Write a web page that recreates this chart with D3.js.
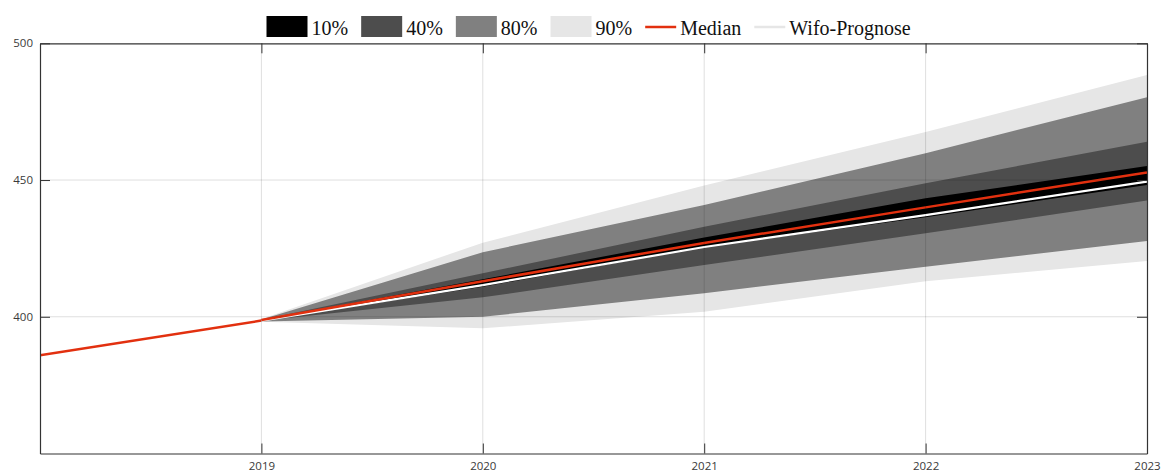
<!DOCTYPE html>
<html>
<head>
<meta charset="utf-8">
<script src="https://cdn.jsdelivr.net/npm/d3@7"></script>
<style>
	body { margin: 0; background: #fff; }
	svg { display: block; }
</style>
</head>
<body>
<svg id="chart" width="1167" height="472"></svg>
<script>
// historical values
var histYears = [2018, 2019];
var histValues = [385.9, 398.6];

// forecast fan
var fcYears = [2019, 2020, 2021, 2022, 2023];
var median = [398.8, 413.0, 427.0, 440.0, 452.8];
var wifo = [398.6, 411.6, 425.5, 437.2, 449.4];
var band10Lo = [398.6, 411.0, 425.5, 436.4, 448.2];
var band10Hi = [398.8, 413.7, 429.0, 443.3, 455.1];
var band40Lo = [398.5, 407.1, 418.9, 430.5, 442.5];
var band40Hi = [398.9, 415.9, 432.9, 448.8, 464.0];
var band80Lo = [398.3, 400.0, 408.6, 418.3, 427.7];
var band80Hi = [399.0, 423.6, 440.9, 459.8, 480.3];
var band90Lo = [398.2, 395.8, 401.8, 413.0, 420.4];
var band90Hi = [399.2, 427.1, 448.0, 467.6, 488.4];

var xTicks = [2019, 2020, 2021, 2022, 2023];
var yTicks = [400, 450, 500];
var legendLabels = ["10%", "40%", "80%", "90%", "Median", "Wifo-Prognose"];

var plotLeft = 40, plotRight = 1147, plotTop = 43.3, plotBottom = 453.5;

var svg = d3.select("#chart");

var x = d3.scaleLinear().domain([2018, 2023]).range([plotLeft, plotRight]);
var y = d3.scaleLinear().domain([350, 500]).range([plotBottom, plotTop]);

svg.append("clipPath").attr("id", "plotClip")
	.append("rect")
	.attr("x", plotLeft).attr("y", plotTop)
	.attr("width", plotRight - plotLeft).attr("height", plotBottom - plotTop);

var plot = svg.append("g").attr("clip-path", "url(#plotClip)");

// bands, widest first
var bands = [
	{ lo: band90Lo, hi: band90Hi, fill: "#e6e6e6" },
	{ lo: band80Lo, hi: band80Hi, fill: "#808080" },
	{ lo: band40Lo, hi: band40Hi, fill: "#4d4d4d" },
	{ lo: band10Lo, hi: band10Hi, fill: "#000000" }
];

var area = d3.area()
	.x(function (d) { return x(d.year); })
	.y0(function (d) { return y(d.lo); })
	.y1(function (d) { return y(d.hi); });

bands.forEach(function (b) {
	var rows = fcYears.map(function (yr, i) { return { year: yr, lo: b.lo[i], hi: b.hi[i] }; });
	plot.append("path").datum(rows)
		.attr("d", area)
		.attr("fill", b.fill);
});

// grid
var grid = svg.append("g").attr("stroke", "#000").attr("stroke-opacity", 0.13).attr("stroke-width", 1);
grid.selectAll("line.gx").data(xTicks.slice(0, -1)).enter().append("line")
	.attr("x1", function (d) { return x(d); }).attr("x2", function (d) { return x(d); })
	.attr("y1", plotTop).attr("y2", plotBottom);
grid.selectAll("line.gy").data([400, 450]).enter().append("line")
	.attr("y1", function (d) { return y(d); }).attr("y2", function (d) { return y(d); })
	.attr("x1", plotLeft).attr("x2", plotRight);

var line = d3.line()
	.x(function (d) { return x(d[0]); })
	.y(function (d) { return y(d[1]); });

plot.append("path")
	.datum(d3.zip(histYears, histValues))
	.attr("d", line)
	.attr("fill", "none").attr("stroke", "#e2300f").attr("stroke-width", 2.5);

plot.append("path")
	.datum(d3.zip(fcYears, wifo))
	.attr("d", line)
	.attr("fill", "none").attr("stroke", "#ffffff").attr("stroke-width", 2.2);

plot.append("path")
	.datum(d3.zip(fcYears, median))
	.attr("d", line)
	.attr("fill", "none").attr("stroke", "#e2300f").attr("stroke-width", 2.5);

// axes, matlab-style box with inward ticks
var tickFont = "'Open Sans', sans-serif";
var axisColor = "#333";

var bottomAxis = svg.append("g")
	.attr("transform", "translate(0," + plotBottom + ")")
	.call(d3.axisBottom(x).tickValues(xTicks).tickFormat(d3.format("d"))
		.tickSizeInner(-10).tickSizeOuter(0).tickPadding(8));

var topAxis = svg.append("g")
	.attr("transform", "translate(0," + plotTop + ")")
	.call(d3.axisTop(x).tickValues(xTicks).tickFormat("")
		.tickSizeInner(-10).tickSizeOuter(0));

var leftAxis = svg.append("g")
	.attr("transform", "translate(" + plotLeft + ",0)")
	.call(d3.axisLeft(y).tickValues(yTicks).tickFormat(d3.format("d"))
		.tickSizeInner(-10).tickSizeOuter(0).tickPadding(7));

var rightAxis = svg.append("g")
	.attr("transform", "translate(" + plotRight + ",0)")
	.call(d3.axisRight(y).tickValues(yTicks).tickFormat("")
		.tickSizeInner(-10).tickSizeOuter(0));

[bottomAxis, topAxis, leftAxis, rightAxis].forEach(function (a) {
	a.select(".domain").attr("stroke", axisColor).attr("stroke-width", 1.2);
	a.selectAll(".tick line").attr("stroke", axisColor).attr("stroke-width", 1);
	a.selectAll(".tick text").attr("fill", "#3a3a3a")
		.style("font-family", tickFont).style("font-size", "11.5px");
});

// legend
var legend = svg.append("g").attr("class", "legend");
var legendItems = [
	{ label: legendLabels[0], kind: "box", color: "#000000" },
	{ label: legendLabels[1], kind: "box", color: "#4d4d4d" },
	{ label: legendLabels[2], kind: "box", color: "#808080" },
	{ label: legendLabels[3], kind: "box", color: "#e6e6e6" },
	{ label: legendLabels[4], kind: "line", color: "#e2300f" },
	{ label: legendLabels[5], kind: "line", color: "#e6e6e6" }
];

var cursor = 266.5;
legendItems.forEach(function (item) {
	var swatchW = item.kind === "box" ? 41 : 31;
	if (item.kind === "box") {
		legend.append("rect")
			.attr("x", cursor).attr("y", 16)
			.attr("width", swatchW).attr("height", 21)
			.attr("fill", item.color);
	} else {
		legend.append("line")
			.attr("x1", cursor).attr("x2", cursor + swatchW)
			.attr("y1", 27).attr("y2", 27)
			.attr("stroke", item.color).attr("stroke-width", 2.5);
	}
	var txt = legend.append("text")
		.attr("x", cursor + swatchW + 4).attr("y", 35)
		.style("font-family", "'Liberation Serif', 'Times New Roman', serif")
		.style("font-size", "20px")
		.attr("fill", "#111")
		.text(item.label);
	cursor += swatchW + 4 + txt.node().getComputedTextLength() + 13;
});
</script>
</body>
</html>
